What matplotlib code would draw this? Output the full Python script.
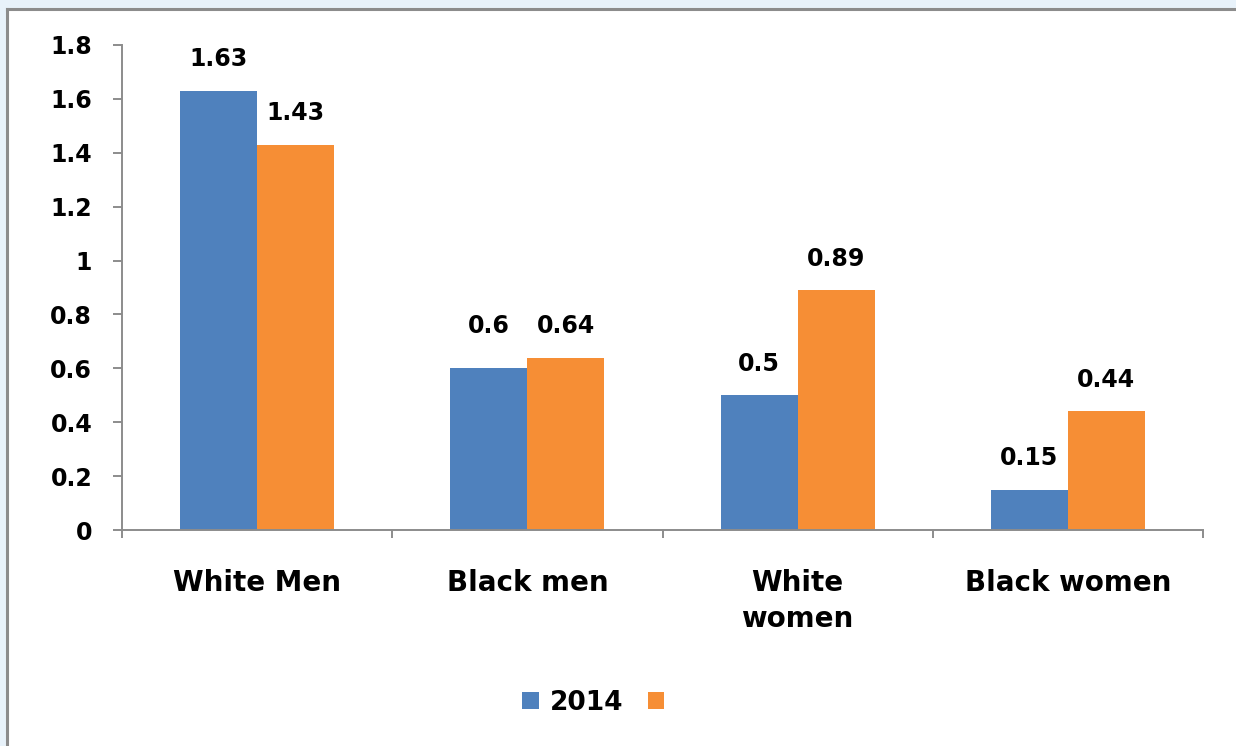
import matplotlib
matplotlib.use("Agg")
import matplotlib.pyplot as plt
from matplotlib.patches import Rectangle
from matplotlib.lines import Line2D
import numpy as np

categories = ["White Men", "Black men", "White\nwomen", "Black women"]
series_2014 = [1.63, 0.60, 0.50, 0.15]
series_other = [1.43, 0.64, 0.89, 0.44]
series_names = ["2014", ""]
yticks = [0, 0.2, 0.4, 0.6, 0.8, 1, 1.2, 1.4, 1.6, 1.8]
ytick_labels = ["0", "0.2", "0.4", "0.6", "0.8", "1", "1.2", "1.4", "1.6", "1.8"]

blue = "#4F81BD"
orange = "#F68E35"
grey = "#8C8C8C"

plt.rcParams['font.family'] = ['DejaVu Sans']
plt.rcParams['font.weight'] = 'bold'

W, H = 1236, 746
fig = plt.figure(figsize=(W / 100, H / 100), dpi=100)
fig.patch.set_facecolor("white")

# light blue frame strips and grey border
fig.patches.append(Rectangle((0, 1 - 8 / H), 1, 8 / H, transform=fig.transFigure,
                             facecolor="#E8F2FA", edgecolor="none", zorder=0))
fig.patches.append(Rectangle((0, 0), 6 / W, 1, transform=fig.transFigure,
                             facecolor="#E8F2FA", edgecolor="none", zorder=0))
fig.lines.append(Line2D([7 / W, 1], [1 - 9 / H, 1 - 9 / H], transform=fig.transFigure,
                        color=grey, lw=2.2))
fig.lines.append(Line2D([7 / W, 7 / W], [0, 1 - 9 / H], transform=fig.transFigure,
                        color=grey, lw=2.2))

ax = fig.add_axes([122 / W, 216 / H, (1203 - 122) / W, (530 - 45) / H])
x = np.arange(len(categories))
bw = 0.285
b1 = ax.bar(x - bw / 2, series_2014, bw, color=blue, label=series_names[0], zorder=2)
b2 = ax.bar(x + bw / 2, series_other, bw, color=orange, label=series_names[1], zorder=2)

for i in range(len(categories)):
    a, b = series_2014[i], series_other[i]
    # labels of nearly equal bars share one baseline, as in the reference
    ya, yb = (max(a, b), max(a, b)) if abs(a - b) < 0.1 else (a, b)
    for r, v, yv in ((b1[i], a, ya), (b2[i], b, yb)):
        ax.annotate(f"{v:g}", (r.get_x() + r.get_width() / 2, yv), xytext=(0, 14),
                    textcoords="offset points", ha="center", va="bottom",
                    fontsize=17, fontweight="bold")

ax.set_xlim(-0.5, len(categories) - 0.5)
ax.set_ylim(0, 1.8)
ax.set_yticks(yticks)
ax.set_yticklabels(ytick_labels)
ax.tick_params(axis="y", direction="out", length=6.5, width=1.4, color=grey,
               labelsize=17, pad=15)
ax.set_xticks(np.arange(-0.5, len(categories), 1.0))
ax.set_xticklabels([])
ax.tick_params(axis="x", which="major", direction="out", length=6, width=1.4, color=grey)
ax.set_xticks(x, minor=True)
ax.set_xticklabels(categories, minor=True, fontsize=20, fontweight="bold")
ax.tick_params(axis="x", which="minor", length=0, pad=28)
for lbl in ax.get_xticklabels(minor=True):
    lbl.set_verticalalignment("top")
    lbl.set_linespacing(1.35)
for lbl in ax.get_yticklabels():
    lbl.set_fontweight("bold")

for s in ("top", "right"):
    ax.spines[s].set_visible(False)
for s in ("left", "bottom"):
    ax.spines[s].set_color(grey)
    ax.spines[s].set_linewidth(1.4)

leg = fig.legend(handles=[b1, b2], labels=series_names, loc="center",
                 bbox_to_anchor=(599 / W, 1 - 703 / H), ncol=2, frameon=False,
                 fontsize=19, handlelength=0.62, handleheight=0.62, handletextpad=0.45,
                 columnspacing=0.9)
for t in leg.get_texts():
    t.set_fontweight("bold")

fig.savefig("out.png", dpi=100, facecolor=fig.get_facecolor())
